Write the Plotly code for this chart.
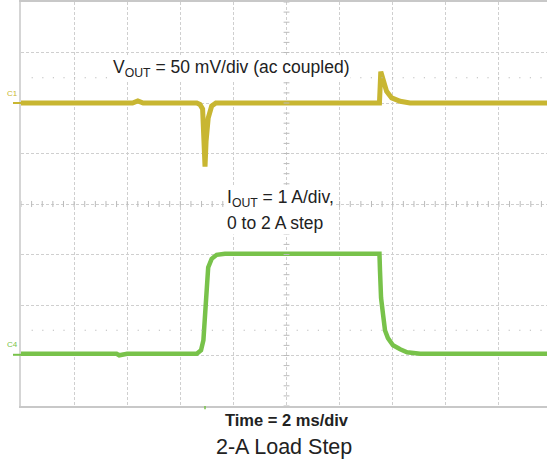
import plotly.graph_objects as go

# ---- data (time in ms, 2 ms/div; Vout in mV, 50 mV/div; Iout in A, 1 A/div) ----
time_v = [-10, -5.8, -5.6, -5.4, -3.38, -3.26, -3.16, -3.11, -3.07, -3.03, -2.95,
          -2.82, -2.66, -2.4, 3.46, 3.50, 3.55, 3.65, 3.77, 3.96, 4.28, 4.65, 9.81]
vout_mv = [0, 0, 2, 0, 0, -1.5, -6, -28, -63, -38, -15,
           -3, 0, 0, 0, 0, 31, 21, 11.5, 5, 1.7, 0, 0]

time_i = [-10, -6.4, -6.3, -6.0, -3.38, -3.22, -3.13, -3.07, -3.03, -2.95, -2.82,
          -2.63, -2.32, 3.48, 3.50, 3.52, 3.56, 3.64, 3.71, 3.82, 4.01, 4.28,
          4.54, 5.03, 9.81]
iout_a = [0, 0, -0.03, 0, 0, 0.07, 0.27, 0.66, 1.09, 1.71, 1.88,
          1.96, 1.98, 1.98, 1.98, 1.65, 1.11, 0.76, 0.46, 0.31, 0.17, 0.09,
          0.03, 0, 0]

t_range = [-10, 9.81]
v_range = [-300, 100]
i_range = [-1.034, 6.966]

YEL = "#C8B632"
GRN = "#78C24A"
GRID = "#cfcfcf"
FONT = "Liberation Sans, Arial, sans-serif"

fig = go.Figure()
fig.add_trace(go.Scatter(x=time_v, y=vout_mv, mode="lines",
                         line=dict(color=YEL, width=5), yaxis="y", showlegend=False))
fig.add_trace(go.Scatter(x=time_i, y=iout_a, mode="lines",
                         line=dict(color=GRN, width=4.5), yaxis="y2", showlegend=False))

shapes = []
# center cross tick marks (every 0.2 div)
div_t = 2.0
div_v = 50.0
for k in range(0, 50):
    t = -10 + k * div_t / 5
    if t > t_range[1]:
        break
    shapes.append(dict(type="line", xref="x", yref="y", x0=t, x1=t,
                       y0=-100 - 3, y1=-100 + 3, line=dict(color="#bbbbbb", width=1)))
for k in range(0, 41):
    v = -300 + k * div_v / 5
    shapes.append(dict(type="line", xref="x", yref="y", x0=-0.11, x1=0.11,
                       y0=v, y1=v, line=dict(color="#bbbbbb", width=1)))
# sparse dotted rows at +/-2.5 div
for v in (25, -225):
    shapes.append(dict(type="line", xref="x", yref="y", x0=-9.6, x1=t_range[1],
                       y0=v, y1=v, line=dict(color="#bbbbbb", width=1.2, dash="1.2px,9.4px")))
# channel ground markers
shapes.append(dict(type="line", xref="paper", yref="y", x0=-8/526, x1=0, y0=0, y1=0,
                   line=dict(color=YEL, width=2)))
shapes.append(dict(type="line", xref="paper", yref="y2", x0=-8/526, x1=0, y0=-0.02, y1=-0.02,
                   line=dict(color=GRN, width=2)))
# trigger marker
shapes.append(dict(type="line", xref="x", yref="paper", x0=-3.07, x1=-3.07,
                   y0=-0.008, y1=0, line=dict(color=GRN, width=1.5)))

TXT = "#222222"
annotations = [
    dict(text="V<sub>OUT</sub> = 50 mV/div (ac coupled)", x=-6.61, y=34, xref="x", yref="y",
         xanchor="left", yanchor="middle", showarrow=False, bgcolor="white",
         font=dict(family=FONT, size=17.5, color=TXT)),
    dict(text="I<sub>OUT</sub> = 1 A/div,", x=-2.32, y=3.08, xref="x", yref="y2",
         xanchor="left", yanchor="middle", showarrow=False, bgcolor="white",
         font=dict(family=FONT, size=17.5, color=TXT)),
    dict(text="0 to 2 A step", x=-2.32, y=2.59, xref="x", yref="y2",
         xanchor="left", yanchor="middle", showarrow=False, bgcolor="white",
         font=dict(family=FONT, size=17.5, color=TXT)),
    dict(text="<b>Time = 2 ms/div</b>", x=0, y=-14/406, xref="x", yref="paper",
         xanchor="center", yanchor="middle", showarrow=False,
         font=dict(family=FONT, size=16.5, color=TXT)),
    dict(text="2-A Load Step", x=-0.1, y=-41/406, xref="x", yref="paper",
         xanchor="center", yanchor="middle", showarrow=False,
         font=dict(family=FONT, size=21.5, color=TXT)),
    dict(text="C1", x=-1/526, y=3, xref="paper", yref="y", xanchor="right", yanchor="bottom",
         showarrow=False, font=dict(family=FONT, size=8, color=YEL)),
    dict(text="C4", x=-1/526, y=0.06, xref="paper", yref="y2", xanchor="right", yanchor="bottom",
         showarrow=False, font=dict(family=FONT, size=8, color=GRN)),
]

fig.update_layout(
    width=547, height=460,
    margin=dict(l=21, r=0, t=0, b=54),
    paper_bgcolor="white", plot_bgcolor="white",
    xaxis=dict(range=t_range, showgrid=True, gridcolor=GRID, griddash="3px,2px", gridwidth=1,
               tick0=-10, dtick=div_t, showticklabels=False, ticks="", zeroline=False,
               showline=True, linecolor="#c8c8c8", linewidth=2, mirror=True, fixedrange=True),
    yaxis=dict(range=v_range, showgrid=True, gridcolor=GRID, griddash="3px,2px", gridwidth=1,
               tick0=-300, dtick=div_v, showticklabels=False, ticks="", zeroline=False,
               showline=True, linecolor="#d5d5d5", linewidth=2, mirror=False, fixedrange=True),
    yaxis2=dict(range=i_range, overlaying="y", showgrid=False, showticklabels=False,
                ticks="", zeroline=False, showline=False, fixedrange=True),
    shapes=shapes,
    annotations=annotations,
    showlegend=False,
)

fig.write_html("out.html", config={"displayModeBar": False},
               post_script="document.body.style.margin='0';document.body.style.overflow='hidden';")
